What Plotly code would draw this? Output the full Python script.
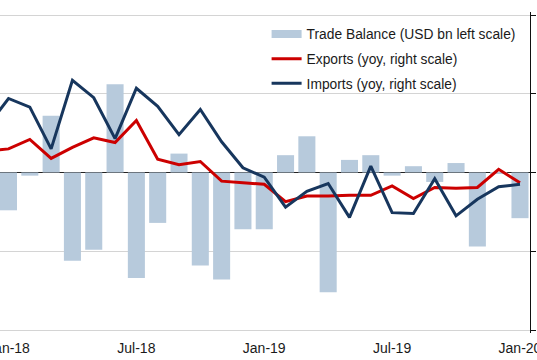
import plotly.graph_objects as go

# Months (index 0 = Jan-18); Dec-17 (index -1) lies just off the left edge
months = ["Dec-17", "Jan-18", "Feb-18", "Mar-18", "Apr-18", "May-18", "Jun-18", "Jul-18",
          "Aug-18", "Sep-18", "Oct-18", "Nov-18", "Dec-18", "Jan-19", "Feb-19",
          "Mar-19", "Apr-19", "May-19", "Jun-19", "Jul-19", "Aug-19", "Sep-19",
          "Oct-19", "Nov-19", "Dec-19", "Jan-20"]
x_idx = list(range(-1, len(months) - 1))

# Trade balance, USD bn (left scale); no bar for Dec-17 visible
trade_balance = [None, -2.4, -0.2, 3.6, -5.6, -4.9, 5.6, -6.7, -3.2, 1.2, -5.9, -6.8,
                 -3.6, -3.6, 1.1, 2.3, -7.6, 0.8, 1.1, -0.2, 0.4, -0.6, 0.6, -4.7,
                 -0.05, -2.9]

# Exports and imports, % yoy (right scale)
exports = [2.7, 3.0, 4.2, 1.8, 3.2, 4.4, 3.8, 6.6, 1.7, 1.0, 1.4, -1.1, -1.3, -1.5,
           -3.7, -3.0, -3.0, -2.9, -2.9, -1.7, -3.3, -1.9, -2.0, -1.9, 0.4, -1.3]
imports = [5.8, 9.4, 8.3, 3.0, 11.7, 9.5, 4.3, 10.7, 8.4, 4.8, 8.0, 3.9, 0.6, -0.6,
           -4.4, -2.4, -1.4, -5.7, 0.8, -5.1, -5.2, -0.8, -5.5, -3.4, -1.8, -1.5]

tick_vals = [0, 6, 12, 18, 24]
tick_text = ["Jan-18", "Jul-18", "Jan-19", "Jul-19", "Jan-20"]

BAR_C = "#b7cadc"
RED_C = "#cc0000"
NAVY_C = "#17365d"
FONT = "Liberation Sans, Arial, sans-serif"

fig = go.Figure()

fig.add_trace(go.Bar(x=x_idx, y=trade_balance, marker=dict(color=BAR_C, line=dict(width=0)),
                     showlegend=False, yaxis="y"))
# legend proxy for the bar series (wide flat swatch)
fig.add_trace(go.Scatter(x=[None], y=[None], mode="lines",
                         line=dict(color=BAR_C, width=8),
                         name="Trade Balance (USD bn left scale)",
                         legendgroup="a", legendrank=1, yaxis="y"))
fig.add_trace(go.Scatter(x=x_idx, y=exports, mode="lines",
                         line=dict(color=RED_C, width=3),
                         name="Exports (yoy, right scale)",
                         legendgroup="b", legendrank=2, yaxis="y2"))
fig.add_trace(go.Scatter(x=x_idx, y=imports, mode="lines",
                         line=dict(color=NAVY_C, width=3),
                         name="Imports (yoy, right scale)",
                         legendgroup="c", legendrank=3, yaxis="y2"))

fig.update_layout(
    width=537, height=360,
    margin=dict(l=0, r=7, t=12, b=27, autoexpand=False),
    paper_bgcolor="white", plot_bgcolor="white",
    font=dict(family=FONT, size=14, color="#1a1a1a"),
    bargap=0.2,
    xaxis=dict(range=[-0.399, 24.47], tickmode="array", tickvals=tick_vals,
               ticktext=tick_text, showgrid=False, zeroline=False, showline=False,
               ticks="outside", ticklen=2, tickcolor="rgba(0,0,0,0)",
               ticklabeloverflow="allow", automargin=False,
               tickfont=dict(size=14, color="#1a1a1a")),
    yaxis=dict(range=[-10.1905, 10.1905], tickmode="linear", tick0=0, dtick=5,
               showgrid=True, gridcolor="#d4d4d4", gridwidth=1,
               zeroline=True, zerolinecolor="#222222", zerolinewidth=1,
               showticklabels=False, showline=False, ticks="", automargin=False),
    yaxis2=dict(range=[-20.381, 20.381], tickmode="linear", tick0=0, dtick=10,
                overlaying="y", side="right", showgrid=False, zeroline=False,
                showline=True, linecolor="#111111", linewidth=1,
                ticks="outside", ticklen=5, tickcolor="#111111",
                showticklabels=False, automargin=False),
    legend=dict(x=0.503, y=0.98, xanchor="left", yanchor="top",
                bgcolor="rgba(255,255,255,0)", borderwidth=0,
                font=dict(family=FONT, size=13.8, color="#1a1a1a"),
                traceorder="grouped", tracegroupgap=3.8),
)

fig.write_html("out.html", config={"displayModeBar": False},
               post_script="document.body.style.margin='0px';")
